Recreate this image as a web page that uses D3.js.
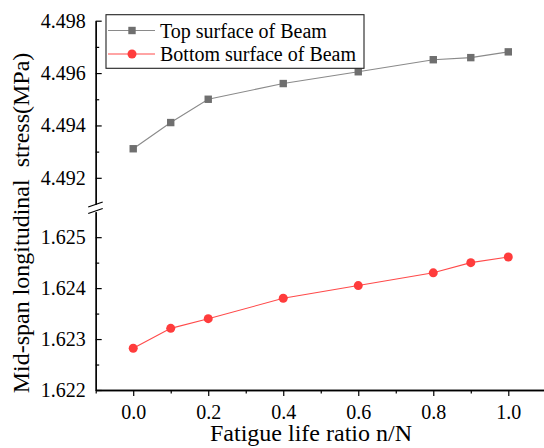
<!DOCTYPE html>
<html>
<head>
<meta charset="utf-8">
<script src="https://cdn.jsdelivr.net/npm/d3@7"></script>
<style>
  html, body { margin: 0; padding: 0; background: #fff; }
  svg { display: block; font-family: "Liberation Serif", "Times New Roman", serif; }
</style>
</head>
<body>
<svg id="chart" width="544" height="448"></svg>
<script>
// Fatigue life ratio n/N
const ratios = [0.0, 0.1, 0.2, 0.4, 0.6, 0.8, 0.9, 1.0];
// Mid-span longitudinal stress (MPa)
const topSurface = [4.49311, 4.49411, 4.49500, 4.49560, 4.49605, 4.49651, 4.49659, 4.49681];
const bottomSurface = [1.62282, 1.62321, 1.62340, 1.62380, 1.62405, 1.62430, 1.62450, 1.62461];

const xMajor = [0.0, 0.2, 0.4, 0.6, 0.8, 1.0];
const xMinor = [-0.1, 0.1, 0.3, 0.5, 0.7, 0.9];
const topMajor = [4.492, 4.494, 4.496, 4.498];
const topMinor = [4.493, 4.495, 4.497];
const bottomMajor = [1.622, 1.623, 1.624, 1.625];
const bottomMinor = [1.6225, 1.6235, 1.6245];

const seriesNames = ["Top surface of Beam", "Bottom surface of Beam"];

const svg = d3.select("#chart");
const axisX0 = 95.7;

const x = d3.scaleLinear().domain([-0.1, 1.1]).range([axisX0, 545.8]);
const yTop = d3.scaleLinear().domain([4.491, 4.498]).range([204, 20.7]);
const yBot = d3.scaleLinear().domain([1.622, 1.6255]).range([390, 211.7]);

const ink = "#000";

function styleAxis(g) {
  g.selectAll("path.domain").attr("stroke", ink).attr("stroke-width", 1.3);
  g.selectAll(".tick line").attr("stroke", ink).attr("stroke-width", 1.2);
  g.selectAll(".tick text")
    .attr("fill", ink)
    .style("font-family", "'Liberation Serif', 'Times New Roman', serif")
    .style("font-size", "20px");
}

// x axis (ticks outward)
svg.append("g").attr("transform", "translate(0,390)")
  .call(d3.axisBottom(x).tickValues(xMinor).tickFormat("").tickSizeInner(3.5).tickSizeOuter(0))
  .call(styleAxis);
svg.append("g").attr("transform", "translate(0,390)")
  .call(d3.axisBottom(x).tickValues(xMajor).tickFormat(d3.format(".1f")).tickSizeInner(6).tickSizeOuter(0).tickPadding(8.5))
  .call(styleAxis);

// upper y segment (ticks inward)
function yAxis(scale, major, minor, fmt) {
  svg.append("g").attr("transform", `translate(${axisX0},0)`)
    .call(d3.axisLeft(scale).tickValues(minor).tickFormat("").tickSizeInner(-3.5).tickSizeOuter(0))
    .call(styleAxis);
  svg.append("g").attr("transform", `translate(${axisX0},0)`)
    .call(d3.axisLeft(scale).tickValues(major).tickFormat(d3.format(fmt)).tickSizeInner(-6).tickSizeOuter(0).tickPadding(10))
    .call(styleAxis);
}
yAxis(yTop, topMajor, topMinor, ".3f");
yAxis(yBot, bottomMajor, bottomMinor, ".3f");

// axis break marks
const breakMarks = [[207, 202], [213.5, 208.5]];
svg.append("g").selectAll("line").data(breakMarks).join("line")
  .attr("x1", axisX0 - 7.5).attr("x2", axisX0 + 7)
  .attr("y1", d => d[0]).attr("y2", d => d[1])
  .attr("stroke", ink).attr("stroke-width", 1.3);

// series
const topColor = { line: "#8a8a8a", mark: "#6f6f6f" };
const botColor = { line: "#ff4a4a", mark: "#ff3c3c" };

const topData = ratios.map((r, i) => ({ r, v: topSurface[i] }));
const botData = ratios.map((r, i) => ({ r, v: bottomSurface[i] }));

svg.append("path").datum(topData)
  .attr("fill", "none").attr("stroke", topColor.line).attr("stroke-width", 1.1)
  .attr("d", d3.line().x(d => x(d.r)).y(d => yTop(d.v)));
const sq = 7.4;
svg.append("g").selectAll("rect").data(topData).join("rect")
  .attr("x", d => x(d.r) - sq / 2).attr("y", d => yTop(d.v) - sq / 2)
  .attr("width", sq).attr("height", sq).attr("fill", topColor.mark);

svg.append("path").datum(botData)
  .attr("fill", "none").attr("stroke", botColor.line).attr("stroke-width", 1.1)
  .attr("d", d3.line().x(d => x(d.r)).y(d => yBot(d.v)));
svg.append("g").selectAll("circle").data(botData).join("circle")
  .attr("cx", d => x(d.r)).attr("cy", d => yBot(d.v))
  .attr("r", 4.5).attr("fill", botColor.mark);

// axis titles
svg.append("text")
  .attr("x", 311).attr("y", 441)
  .attr("text-anchor", "middle")
  .style("font-size", "24px").attr("fill", ink)
  .text("Fatigue life ratio n/N");

svg.append("text")
  .attr("transform", "translate(29,223) rotate(-90)")
  .attr("text-anchor", "middle")
  .style("font-size", "24px").attr("fill", ink)
  .style("white-space", "pre")
  .attr("xml:space", "preserve")
  .text("Mid-span longitudinal  stress(MPa)");

// legend
const legend = svg.append("g");
legend.append("rect")
  .attr("x", 106).attr("y", 14.7).attr("width", 258).attr("height", 53.6)
  .attr("fill", "#fff").attr("stroke", "#222").attr("stroke-width", 1.1);
const rows = [
  { name: seriesNames[0], c: topColor, shape: "square", y: 30.5 },
  { name: seriesNames[1], c: botColor, shape: "circle", y: 54 }
];
rows.forEach(row => {
  legend.append("line")
    .attr("x1", 108).attr("x2", 155).attr("y1", row.y).attr("y2", row.y)
    .attr("stroke", row.c.line).attr("stroke-width", 1.1);
  if (row.shape === "square") {
    legend.append("rect").attr("x", 132 - sq / 2).attr("y", row.y - sq / 2)
      .attr("width", sq).attr("height", sq).attr("fill", row.c.mark);
  } else {
    legend.append("circle").attr("cx", 132).attr("cy", row.y).attr("r", 4.5).attr("fill", row.c.mark);
  }
  legend.append("text")
    .attr("x", 160).attr("y", row.y).attr("dy", "0.35em")
    .style("font-size", "20px").attr("fill", ink)
    .text(row.name);
});
</script>
</body>
</html>
